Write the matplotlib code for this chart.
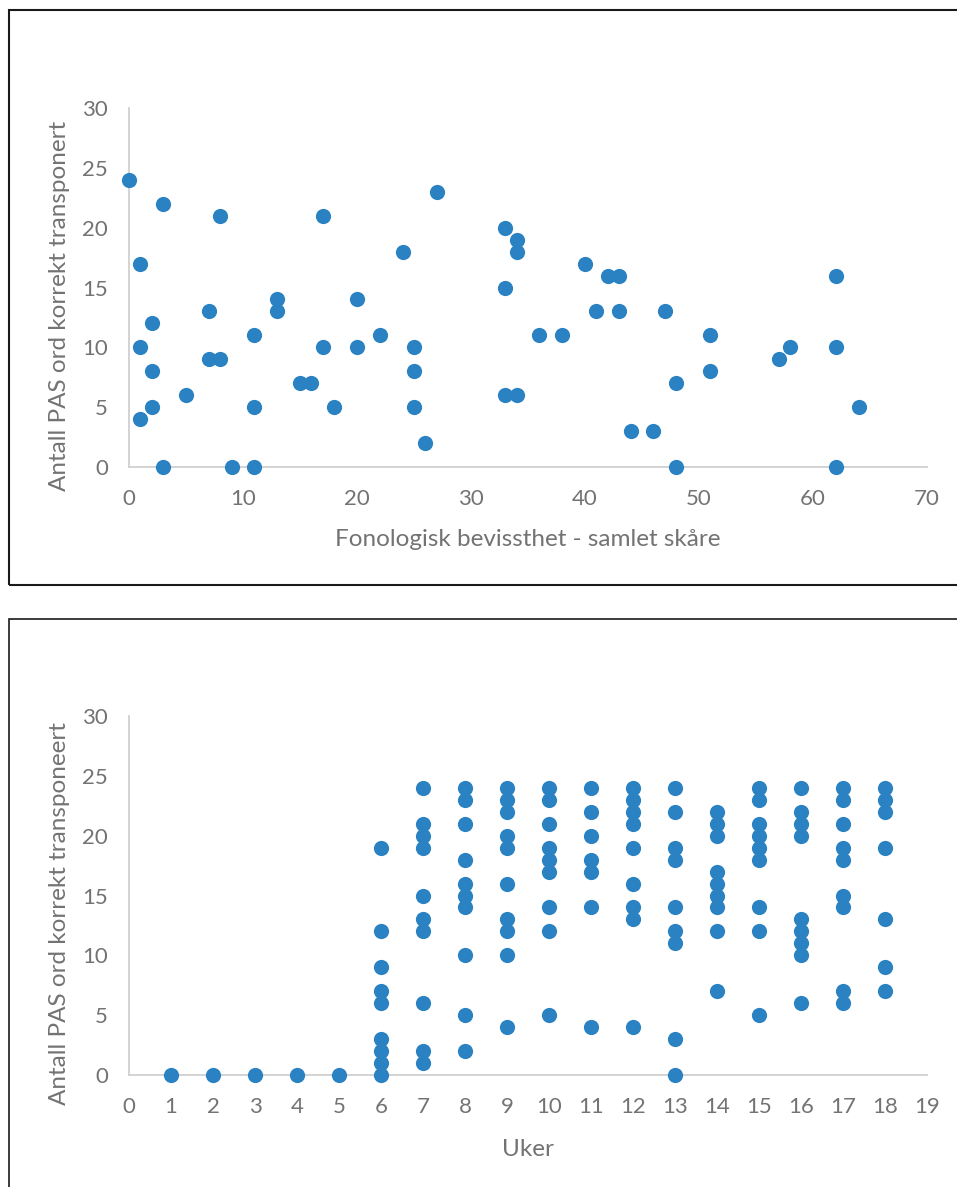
import numpy as np
import matplotlib
matplotlib.use("Agg")
import matplotlib.pyplot as plt
from matplotlib.patches import Rectangle

plt.rcParams['font.family'] = ['Lato', 'DejaVu Sans']

# top chart: phonological awareness score vs words transposed
fon_x = [0, 3, 8, 17, 27, 1, 24, 13, 13, 20, 7, 2, 11, 22, 1, 17, 20, 25,
         7, 8, 2, 25, 15, 16, 5, 2, 11, 18, 25, 1, 26, 3, 9, 11,
         33, 34, 34, 40, 42, 43, 62, 33, 41, 43, 47, 36, 38, 51, 58, 57,
         62, 51, 48, 33, 34, 64, 44, 46, 48, 62]
fon_y = [24, 22, 21, 21, 23, 17, 18, 14, 13, 14, 13, 12, 11, 11, 10, 10, 10, 10,
         9, 9, 8, 8, 7, 7, 6, 5, 5, 5, 5, 4, 2, 0, 0, 0,
         20, 19, 18, 17, 16, 16, 16, 15, 13, 13, 13, 11, 11, 11, 10, 9,
         10, 8, 7, 6, 6, 5, 3, 3, 0, 0]

# bottom chart: words transposed per week
weeks = {
    1: [0], 2: [0], 3: [0], 4: [0], 5: [0],
    6: [19, 12, 9, 7, 6, 3, 2, 1, 0],
    7: [24, 21, 20, 19, 15, 13, 12, 6, 2, 1],
    8: [24, 23, 21, 18, 16, 15, 14, 10, 5, 2],
    9: [24, 23, 22, 20, 19, 16, 13, 12, 10, 4],
    10: [24, 23, 21, 19, 18, 17, 14, 12, 5],
    11: [24, 22, 20, 18, 17, 14, 4],
    12: [24, 23, 22, 21, 19, 16, 14, 13, 4],
    13: [24, 22, 19, 18, 14, 12, 11, 3, 0],
    14: [22, 21, 20, 17, 16, 15, 14, 12, 7],
    15: [24, 23, 21, 20, 19, 18, 14, 12, 5],
    16: [24, 22, 21, 20, 13, 12, 11, 10, 6],
    17: [24, 23, 21, 19, 18, 15, 14, 7, 6],
    18: [24, 23, 22, 19, 13, 9, 7],
}
uke_x = [w for w, vals in weeks.items() for _ in vals]
uke_y = [v for vals in weeks.values() for v in vals]

W, H = 957, 1187
fig = plt.figure(figsize=(W / 100, H / 100), dpi=100)

blue = '#2A82C3'
grey_txt = '#737373'
axis_col = '#D0D0D0'


def px(l, t, r, b):
    return [l / W, 1 - b / H, (r - l) / W, (b - t) / H]


def style(ax):
    for s in ['top', 'right']:
        ax.spines[s].set_visible(False)
    for s in ['left', 'bottom']:
        ax.spines[s].set_color(axis_col)
        ax.spines[s].set_linewidth(1.3)
    ax.tick_params(length=0, labelsize=16, colors=grey_txt)
    ax.tick_params(axis='x', pad=16)
    ax.tick_params(axis='y', pad=15)


# panel frames
fig.patches.append(Rectangle((9 / W, 1 - 585 / H), 2, (585 - 10) / H,
                             transform=fig.transFigure, fill=False,
                             edgecolor='#1a1a1a', linewidth=1.5))
fig.patches.append(Rectangle((9 / W, -0.1), 2, 1.1 - 619 / H,
                             transform=fig.transFigure, fill=False,
                             edgecolor='#1a1a1a', linewidth=1.2))

ax1 = fig.add_axes(px(129, 108, 927, 467))
ax1.scatter(fon_x, fon_y, s=120, color=blue, zorder=3, clip_on=False, linewidths=0)
ax1.set_xlim(0, 70)
ax1.set_ylim(0, 30)
ax1.set_xticks(range(0, 71, 10))
ax1.set_yticks(range(0, 31, 5))
style(ax1)
ax1.set_xlabel('Fonologisk bevissthet - samlet skåre', fontsize=17.5, color=grey_txt, labelpad=14)
ax1.set_ylabel('Antall PAS ord korrekt transponert', fontsize=17.5, color=grey_txt)
ax1.yaxis.set_label_coords(-0.074, 0.45)

ax2 = fig.add_axes(px(129, 716, 927, 1075))
ax2.scatter(uke_x, uke_y, s=120, color=blue, zorder=3, clip_on=False, linewidths=0)
ax2.set_xlim(0, 19)
ax2.set_ylim(0, 30)
ax2.set_xticks(range(0, 20))
ax2.set_yticks(range(0, 31, 5))
style(ax2)
ax2.set_xlabel('Uker', fontsize=17.5, color=grey_txt, labelpad=16)
ax2.set_ylabel('Antall PAS ord korrekt transponeert', fontsize=17.5, color=grey_txt)
ax2.yaxis.set_label_coords(-0.074, 0.45)

fig.savefig('out.png', dpi=100)
